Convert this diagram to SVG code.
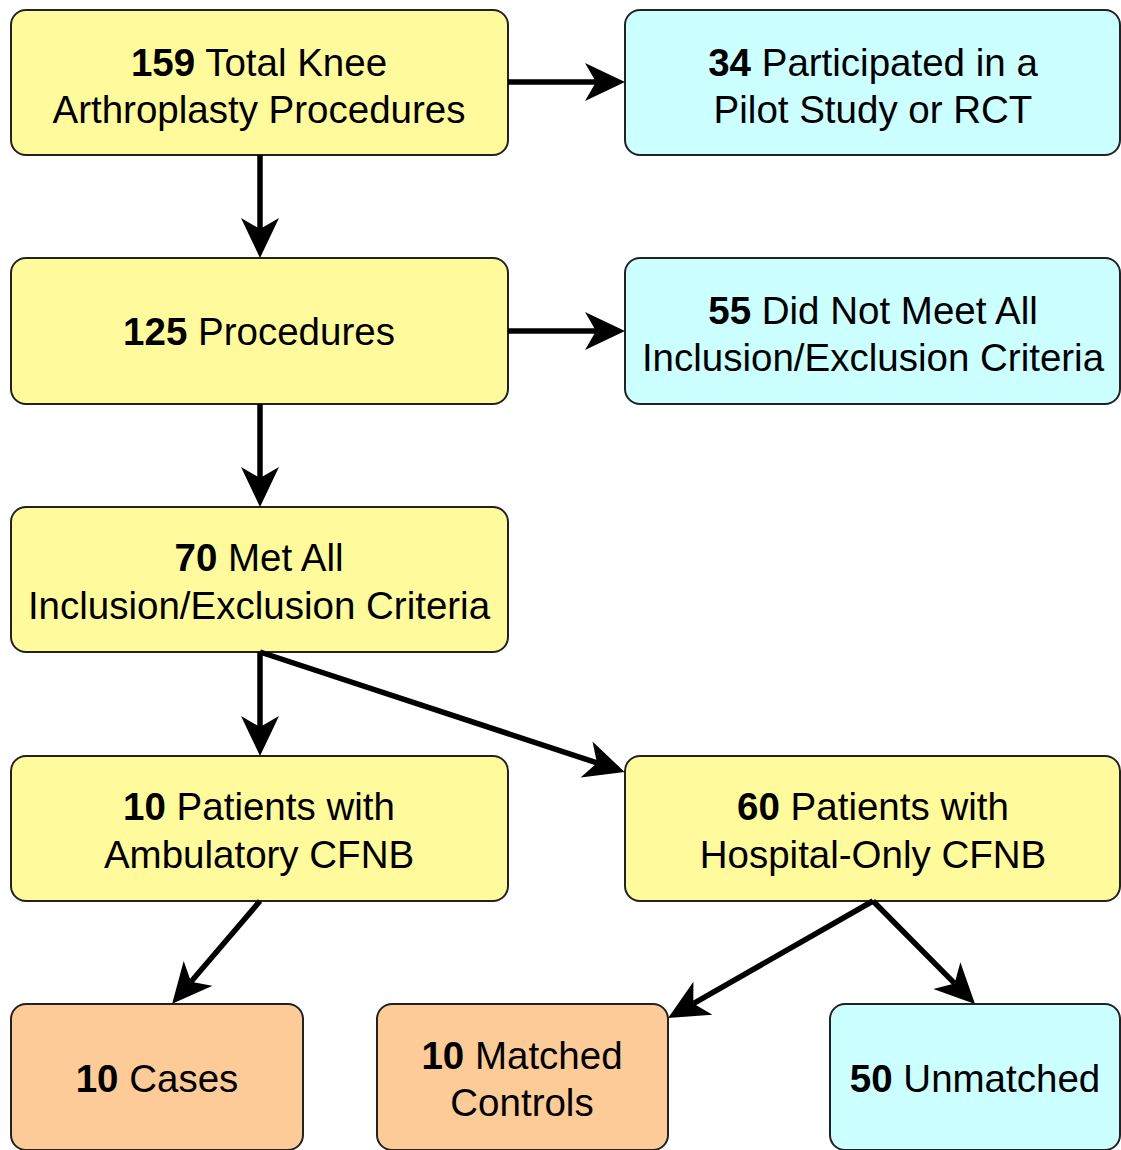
<svg xmlns="http://www.w3.org/2000/svg" width="1121" height="1150" viewBox="0 0 1121 1150">
<style>
.box{stroke:#222;stroke-width:2}
.y{fill:#FFFB9C}
.c{fill:#CCFFFF}
.o{fill:#FCCB98}
text{font-family:"Liberation Sans",Arial,sans-serif;font-size:38.5px;fill:#000;text-anchor:middle}
.b{font-weight:bold}
.conn line{stroke:#000;stroke-width:5.5;marker-end:url(#ah)}
</style>
<defs>
<marker id="ah" markerUnits="userSpaceOnUse" markerWidth="42" markerHeight="40" refX="11" refY="19" orient="auto" viewBox="0 0 42 40">
<path d="M0,0 L40,19 L0,38 L11,19 z" fill="#000"/>
</marker>
</defs>
<rect width="1121" height="1150" fill="#fff"/>
<g id="n1"><rect class="box y" x="11" y="10" width="497" height="145" rx="15"/><text x="259" y="76"><tspan class="b">159</tspan> Total Knee</text><text x="259" y="123">Arthroplasty Procedures</text></g>
<g id="n2"><rect class="box c" x="625" y="10" width="495" height="145" rx="15"/><text x="873" y="76"><tspan class="b">34</tspan> Participated in a</text><text x="873" y="123">Pilot Study or RCT</text></g>
<g id="n3"><rect class="box y" x="11" y="258" width="497" height="146" rx="15"/><text x="259" y="345"><tspan class="b">125</tspan> Procedures</text></g>
<g id="n4"><rect class="box c" x="625" y="258" width="495" height="146" rx="15"/><text x="873" y="324"><tspan class="b">55</tspan> Did Not Meet All</text><text x="873" y="371">Inclusion/Exclusion Criteria</text></g>
<g id="n5"><rect class="box y" x="11" y="507" width="497" height="145" rx="15"/><text x="259" y="571"><tspan class="b">70</tspan> Met All</text><text x="259" y="619">Inclusion/Exclusion Criteria</text></g>
<g id="n6"><rect class="box y" x="11" y="756" width="497" height="145" rx="15"/><text x="259" y="820"><tspan class="b">10</tspan> Patients with</text><text x="259" y="868">Ambulatory CFNB</text></g>
<g id="n7"><rect class="box y" x="625" y="756" width="495" height="145" rx="15"/><text x="873" y="820"><tspan class="b">60</tspan> Patients with</text><text x="873" y="868">Hospital-Only CFNB</text></g>
<g id="n8"><rect class="box o" x="11" y="1004" width="292" height="146" rx="15"/><text x="157" y="1092"><tspan class="b">10</tspan> Cases</text></g>
<g id="n9"><rect class="box o" x="377" y="1004" width="291" height="146" rx="15"/><text x="522" y="1069"><tspan class="b">10</tspan> Matched</text><text x="522" y="1116">Controls</text></g>
<g id="n10"><rect class="box c" x="830" y="1004" width="290" height="146" rx="15"/><text x="975" y="1092"><tspan class="b">50</tspan> Unmatched</text></g>
<g class="conn" id="connectors">
<line x1="508" y1="82" x2="596" y2="82"/>
<line x1="260" y1="155" x2="260" y2="229"/>
<line x1="508" y1="331" x2="596" y2="331"/>
<line x1="260" y1="404" x2="260" y2="478"/>
<line x1="260" y1="652" x2="260" y2="727"/>
<line x1="260" y1="652" x2="597" y2="762.9"/>
<line x1="260" y1="901" x2="191" y2="981.8"/>
<line x1="873" y1="901" x2="693.3" y2="1003.6"/>
<line x1="873" y1="901" x2="954.6" y2="983.4"/>
</g>
</svg>
